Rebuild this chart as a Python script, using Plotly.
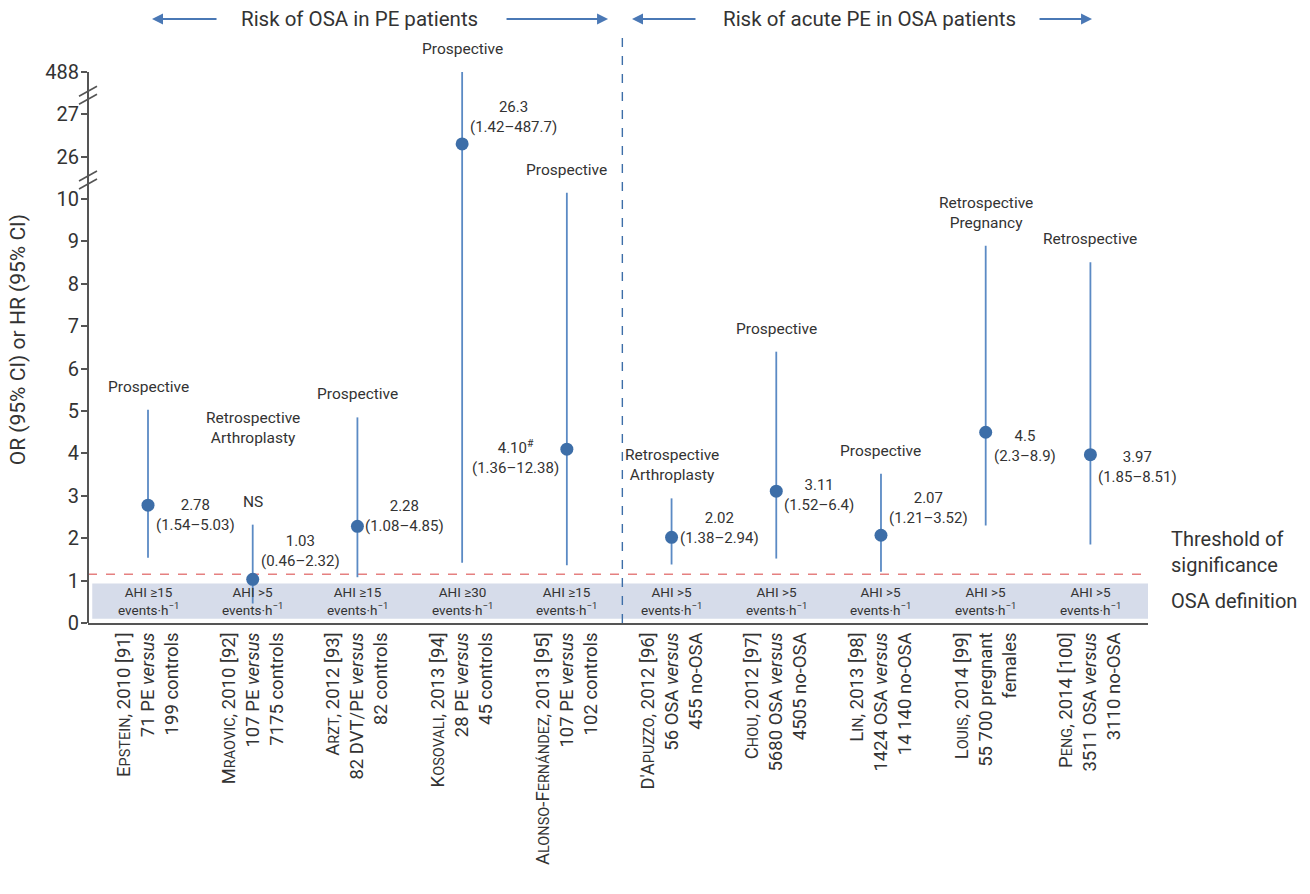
import plotly.graph_objects as go

# ---- data -----------------------------------------------------------------
authors = ["Epstein", "Mraovic", "Arzt", "Kosovali", "Alonso-Fernández",
           "D'Apuzzo", "Chou", "Lin", "Louis", "Peng"]
years = [2010, 2010, 2012, 2013, 2013, 2012, 2012, 2013, 2014, 2014]
refs = [91, 92, 93, 94, 95, 96, 97, 98, 99, 100]
cohort_line1 = ["71 PE <i>versus</i>", "107 PE <i>versus</i>", "82 DVT/PE <i>versus</i>",
                "28 PE <i>versus</i>", "107 PE <i>versus</i>", "56 OSA <i>versus</i>",
                "5680 OSA <i>versus</i>", "1424 OSA <i>versus</i>", "55 700 pregnant",
                "3511 OSA <i>versus</i>"]
cohort_line2 = ["199 controls", "7175 controls", "82 controls", "45 controls",
                "102 controls", "455 no-OSA", "4505 no-OSA", "14 140 no-OSA",
                "females", "3110 no-OSA"]

odds_ratio = [2.78, 1.03, 2.28, 26.3, 4.10, 2.02, 3.11, 2.07, 4.5, 3.97]
ci_low = [1.54, 0.46, 1.08, 1.42, 1.36, 1.38, 1.52, 1.21, 2.3, 1.85]
ci_high = [5.03, 2.32, 4.85, 487.7, 12.38, 2.94, 6.4, 3.52, 8.9, 8.51]
value_text = ["2.78", "1.03", "2.28", "26.3", "4.10<sup>#</sup>",
              "2.02", "3.11", "2.07", "4.5", "3.97"]
ci_text = ["(1.54–5.03)", "(0.46–2.32)", "(1.08–4.85)", "(1.42–487.7)", "(1.36–12.38)",
           "(1.38–2.94)", "(1.52–6.4)", "(1.21–3.52)", "(2.3–8.9)", "(1.85–8.51)"]
design = ["Prospective", "Retrospective<br>Arthroplasty", "Prospective", "Prospective",
          "Prospective", "Retrospective<br>Arthroplasty", "Prospective", "Prospective",
          "Retrospective<br>Pregnancy", "Retrospective"]
significance = ["", "NS", "", "", "", "", "", "", "", ""]
osa_definition = ["AHI ≥15", "AHI >5", "AHI ≥15", "AHI ≥30", "AHI ≥15",
                  "AHI >5", "AHI >5", "AHI >5", "AHI >5", "AHI >5"]
y_tick_values = [0, 1, 2, 3, 4, 5, 6, 7, 8, 9, 10, 26, 27, 488]
groups = ["Risk of OSA in PE patients", "Risk of acute PE in OSA patients"]

# ---- label placement (pixels) ----------------------------------------------
value_side = ["right"] * 4 + ["left"] + ["right"] * 5
value_dy = [-10, 28, 10, 27, -8, 9, -4, 27, -14, -12]
design_dy = [12, 76, 12, 12, 12, 12, 12, 12, 12, 12]

# ---- colours / fonts -------------------------------------------------------
DOT = "#3d6ea8"
BAR = "#5b8ac4"
TEXT = "#333333"
AXIS = "#555555"
BAND = "#d6dcea"
FONT = "Roboto"


def broken_scale(v):
    """Map a value onto the broken axis: 0-10 linear, then compressed segments."""
    if v <= 10:
        return v
    if v <= 26:
        return 10 + (v - 10) / 16
    if v <= 27:
        return 11 + (v - 26)
    return 12 + (v - 27) / (488 - 27)


def small_caps(name):
    out = []
    for ch in name:
        if ch.isalpha() and ch.islower():
            out.append(f"<span style='font-size:14.5px'>{ch.upper()}</span>")
        else:
            out.append(ch)
    return "".join(out)


n = len(authors)
xs = list(range(n))
y_mid = [broken_scale(v) for v in odds_ratio]
y_lo = [broken_scale(v) for v in ci_low]
y_hi = [broken_scale(v) for v in ci_high]

tick_text = [f"{small_caps(a)}, {y} [{r}]<br>{c1}<br>{c2}"
             for a, y, r, c1, c2 in zip(authors, years, refs, cohort_line1, cohort_line2)]

fig = go.Figure()

# confidence intervals + point estimates
fig.add_trace(go.Scatter(
    x=xs, y=y_mid, mode="markers",
    marker=dict(size=13, color=DOT),
    error_y=dict(type="data", symmetric=False,
                 array=[h - m for h, m in zip(y_hi, y_mid)],
                 arrayminus=[m - l for m, l in zip(y_mid, y_lo)],
                 color=BAR, thickness=1.8, width=0),
    showlegend=False, hoverinfo="skip",
))

shapes = []
annotations = []

# OSA definition band
shapes.append(dict(type="rect", xref="paper", yref="y", x0=0.004, x1=1, y0=0.1, y1=0.93,
                   fillcolor=BAND, line=dict(width=0), layer="below"))
# threshold of significance
shapes.append(dict(type="line", xref="paper", yref="y", x0=0, x1=1, y0=1.15, y1=1.15,
                   line=dict(color="#e58080", width=1.5, dash="dash"), layer="below"))
# divider between the two groups
shapes.append(dict(type="line", xref="x", yref="paper", x0=4.53, x1=4.53, y0=0, y1=1,
                   line=dict(color=DOT, width=1.4, dash="dash"), layer="below"))
# y axis line
shapes.append(dict(type="line", xref="paper", yref="y", x0=0, x1=0, y0=0, y1=13,
                   line=dict(color=AXIS, width=2)))
# axis break marks
for yb in (10.45, 12.45):
    for off in (-4, 4):
        shapes.append(dict(type="line", xref="paper", yref="y",
                           xsizemode="pixel", ysizemode="pixel",
                           xanchor=0, yanchor=yb,
                           x0=-9, x1=9, y0=off - 5, y1=off + 5,
                           line=dict(color=AXIS, width=1.6)))

for i in range(n):
    # OSA definition text in the band
    annotations.append(dict(x=i, y=0.52, xref="x", yref="y", showarrow=False,
                            text=f"{osa_definition[i]}<br>events·h<sup>−1</sup>",
                            font=dict(family=FONT, size=13.5, color=TEXT), align="center"))
    # estimate + CI
    right = value_side[i] == "right"
    annotations.append(dict(x=i, y=y_mid[i], xref="x", yref="y", showarrow=False,
                            text=f"{value_text[i]}<br>{ci_text[i]}",
                            xanchor="left" if right else "right",
                            xshift=6 if right else -6, yshift=value_dy[i],
                            font=dict(family=FONT, size=15, color=TEXT), align="center"))
    # study design
    annotations.append(dict(x=i, y=y_hi[i], xref="x", yref="y", showarrow=False,
                            text=design[i], yanchor="bottom", yshift=design_dy[i],
                            font=dict(family=FONT, size=15.5, color=TEXT), align="center"))
    if significance[i]:
        annotations.append(dict(x=i, y=y_hi[i], xref="x", yref="y", showarrow=False,
                                text=significance[i], yanchor="bottom", yshift=12,
                                font=dict(family=FONT, size=15.5, color=TEXT)))

# group headers with arrows
header_y = 1.027
for text, cx, left_head, left_len, right_head, right_len in [
        (groups[0], 0.2566, 0.0604, 66, 0.4906, 103),
        (groups[1], 0.7377, 0.5132, 65, 0.9472, 54)]:
    annotations.append(dict(x=cx, y=header_y, xref="paper", yref="paper", showarrow=False,
                            xanchor="center", yanchor="middle",
                            text=text, font=dict(family=FONT, size=20.5, color=TEXT)))
    annotations.append(dict(x=left_head, y=header_y, xref="paper", yref="paper",
                            ax=left_len, ay=0, showarrow=True, arrowhead=2, arrowsize=1.1,
                            arrowwidth=2, arrowcolor="#4a78b5", text=""))
    annotations.append(dict(x=right_head, y=header_y, xref="paper", yref="paper",
                            ax=-right_len, ay=0, showarrow=True, arrowhead=2, arrowsize=1.1,
                            arrowwidth=2, arrowcolor="#4a78b5", text=""))

# right-hand legend labels
annotations.append(dict(x=1.02, y=1.67, xref="paper", yref="y", showarrow=False,
                        xanchor="left", yanchor="middle", align="left",
                        text="Threshold of<br>significance",
                        font=dict(family=FONT, size=20, color=TEXT)))
annotations.append(dict(x=1.02, y=0.52, xref="paper", yref="y", showarrow=False,
                        xanchor="left", yanchor="middle", align="left", text="OSA definition",
                        font=dict(family=FONT, size=20, color=TEXT)))
# y axis title
annotations.append(dict(x=-0.066, y=6.67, xref="paper", yref="y", showarrow=False,
                        xanchor="center", yanchor="middle",
                        textangle=-90, text="OR (95% CI) or HR (95% CI)",
                        font=dict(family=FONT, size=21, color=TEXT)))

fig.update_layout(
    width=1310, height=894,
    margin=dict(l=88, r=162, t=35, b=271),
    paper_bgcolor="white", plot_bgcolor="white",
    shapes=shapes, annotations=annotations,
    font=dict(family=FONT, color=TEXT),
    xaxis=dict(range=[-0.573, 9.55], tickvals=xs, ticktext=tick_text, tickangle=-90,
               showgrid=False, zeroline=False, showline=True, linecolor=AXIS, linewidth=2,
               ticks="", tickfont=dict(family=FONT, size=18.5, color=TEXT)),
    yaxis=dict(range=[0, 13.87], tickvals=[broken_scale(v) for v in y_tick_values],
               ticktext=[str(v) for v in y_tick_values], showgrid=False, zeroline=False,
               showline=False, ticks="outside", ticklen=6, tickwidth=1.5, tickcolor=AXIS,
               ticklabelstandoff=-2,
               tickfont=dict(family=FONT, size=20, color=TEXT)),
)

fig.write_html("out.html")
